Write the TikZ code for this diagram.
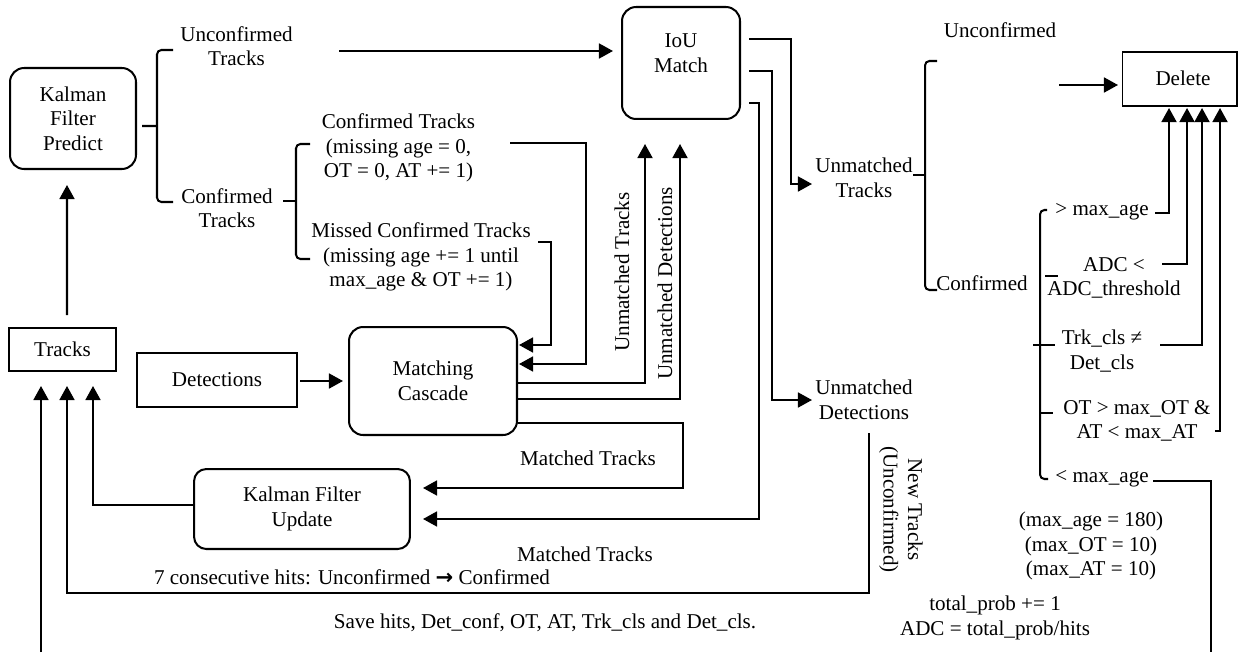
\documentclass[tikz,border=0pt]{standalone}
\usepackage{fontspec}
\setmainfont{Liberation Serif}
\newfontfamily\arrfont{DejaVu Sans}
\usetikzlibrary{arrows.meta,calc}
\begin{document}
\begin{tikzpicture}[x=0.02cm,y=-0.02cm, font=\fontsize{12}{14}\selectfont,
 rbox/.style={draw, line width=1.15pt, rounded corners=8pt, align=center, inner sep=0pt},
 sbox/.style={draw, line width=1.15pt, align=center, inner sep=0pt},
 txt/.style={align=center, inner sep=0pt},
 ln/.style={line width=1.15pt},
 conn/.style={line width=1.15pt, -{Triangle[length=8pt,width=8.5pt]}},
 brk/.style={line width=1.15pt, rounded corners=2.5pt}]
\useasboundingbox (0,0) rectangle (1239,652);

% boxes
\node[rbox, minimum width=2.52cm, minimum height=2.02cm] (predict) at (73,118.5) {Kalman\\Filter\\Predict};
\node[sbox, minimum width=2.14cm, minimum height=0.86cm] (tracks) at (62.5,349.5) {Tracks};
\node[sbox, minimum width=3.2cm, minimum height=1.08cm] (det) at (217,380) {Detections};
\node[rbox, minimum width=3.36cm, minimum height=2.16cm] (mc) at (433,381) {Matching\\Cascade};
\node[rbox, rounded corners=7pt, minimum width=4.32cm, minimum height=1.6cm] (kfu) at (302,509) {Kalman Filter\\Update};
\node[rbox, minimum width=2.36cm, minimum height=2.24cm] (iou) at (681,63) {};
\node[txt] (ioutxt) at (681,53) {IoU\\Match};
\node[sbox, line width=0.6pt, minimum width=2.3cm, minimum height=1.08cm] (del) at (1179.5,79) {};
\node[txt] (deltxt) at (1183,78) {Delete};

% labels
\node[txt] (unc) at (236.5,46) {Unconfirmed\\Tracks};
\node[txt] (conf) at (227,208) {Confirmed\\Tracks};
\node[txt] (ctr) at (398.5,148) {Confirmed Tracks\\(missing age = 0,\\OT = 0, AT += 1)};
\node[txt] (mct) at (421,257) {Missed Confirmed Tracks\\(missing age += 1 until\\max\_age \& OT += 1)};
\node[txt, rotate=90] (ut) at (622,272) {Unmatched Tracks};
\node[txt, rotate=90] (ud) at (665,283.5) {Unmatched Detections};
\node[txt] (umt) at (864,178) {Unmatched\\Tracks};
\node[txt] (umd) at (864,400) {Unmatched\\Detections};
\node[txt] (uncf) at (1000,30) {Unconfirmed};
\node[txt] (cnf) at (982,283) {Confirmed};
\node[txt] (gt) at (1102,212) {> max\_age};
\node[txt] (adc) at (1114,278) {ADC <\\ADC\_threshold};
\node[txt] (trk) at (1102,351) {Trk\_cls ≠\\Det\_cls};
\node[txt] (ot) at (1137,421) {OT > max\_OT \&\\AT < max\_AT};
\node[txt] (lt) at (1102,479) {< max\_age};
\node[txt] (params) at (1091,546) {(max\_age = 180)\\(max\_OT = 10)\\(max\_AT = 10)};
\node[txt] (tp) at (995,618) {total\_prob += 1\\ADC = total\_prob/hits};
\node[txt, rotate=-90] (newt) at (901,509.5) {New Tracks\\(Unconfirmed)};
\node[txt] (mt1) at (588,458) {Matched Tracks};
\node[txt] (mt2) at (585,554) {Matched Tracks};
\node[txt] (hits) at (352,577) {7 consecutive hits: Unconfirmed {\arrfont\bfseries →} Confirmed};
\node[txt] (save) at (545,623) {Save hits, Det\_conf, OT, AT, Trk\_cls and Det\_cls.};

\coordinate (b1) at (157,126);
\coordinate (b2) at (296,201);
\coordinate (b3) at (925,175);
\coordinate (bl) at (41,652);
\coordinate (br) at (1211,652);

% brackets
\draw[ln] ($(predict)+(69,7.5)$) -- (b1);
\draw[brk] (173,50) -- (157,50) -- (157,202) -- (173,202);
\draw[ln] ($(conf)+(56,-7)$) -- (b2);
\draw[brk] (310,144) -- (296,144) -- (296,259) -- (310,259);
\draw[ln] ($(umt)+(49,-3)$) -- (b3);
\draw[brk] (937,61) -- (925,61) -- (925,290) -- (937,290);
\draw[brk] (1047,210) -- (1040,210) -- (1040,479) -- (1048,479);
\draw[ln] (1033,345) -- (1055,345);
\draw[ln] (1041,413) -- (1053,413);
\draw[ln] (1045,276) -- (1058,276);

% connectors
\draw[conn] ($(tracks)+(4.5,-34.5)$) -- ($(predict)+(-6,66.5)$);
\draw[conn] ($(unc)+(102.5,5)$) -- ($(iou)+(-68,-12)$);
\draw[conn] ($(ctr)+(111.5,-5)$) -- ++(76,0) |- ($(mc)+(86,-17)$);
\draw[conn] ($(mct)+(117,-15)$) -- ++(13,0) |- ($(mc)+(86,-36)$);
\draw[conn] ($(det)+(83,1)$) -- ($(mc)+(-90,0)$);
\draw[conn] ($(mc)+(85,2)$) -| ($(iou)+(-36,81)$);
\draw[conn] ($(mc)+(85,18)$) -| ($(iou)+(-1,81)$);
\draw[conn] ($(mc)+(85,42)$) -- ++(165,0) |- ($(kfu)+(121,-21)$);
\draw[conn] ($(iou)+(68,40)$) -- ++(10,0) |- ($(kfu)+(121,10)$);
\draw[conn] ($(iou)+(68,-24)$) -- ++(42,0) |- ($(umt)+(-52,6)$);
\draw[conn] ($(iou)+(68,8)$) -- ++(23,0) |- ($(umd)+(-52,0)$);
\draw[conn] ($(kfu)+(-108,-4)$) -| ($(tracks)+(30.5,36.5)$);
\draw[conn] ($(umd)+(5,33)$) -- ++(0,160) -| ($(tracks)+(4.5,36.5)$);
\draw[conn] (bl) -- ($(tracks)+(-21.5,36.5)$);
\draw[conn] ($(uncf)+(59,55)$) -- ($(del)+(-61.5,6)$);
\draw[conn] ($(gt)+(53,1)$) -| ($(del)+(-10.5,29)$);
\draw[conn] ($(adc)+(48,-14)$) -| ($(del)+(7.5,29)$);
\draw[conn] ($(trk)+(58,-6)$) -| ($(del)+(22.5,29)$);
\draw[conn] ($(ot)+(78,10)$) -| ($(del)+(40.5,29)$);
\draw[ln] ($(lt)+(51,2)$) -| (br);
\end{tikzpicture}
\end{document}
